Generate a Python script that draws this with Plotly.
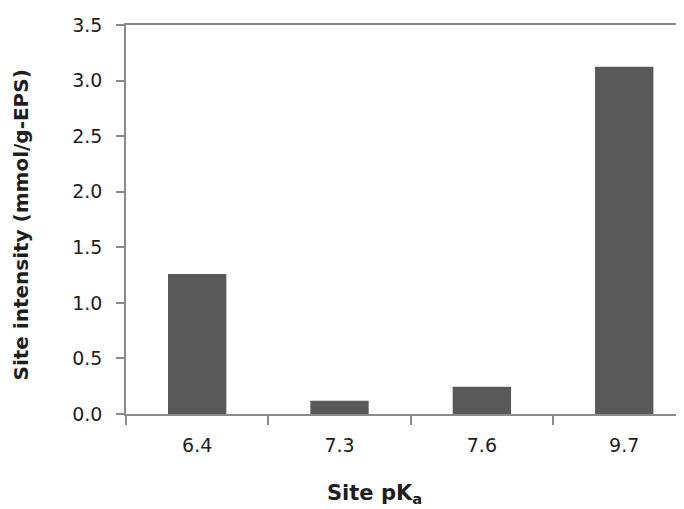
import plotly.graph_objects as go

categories = ["6.4", "7.3", "7.6", "9.7"]
values = [1.26, 0.12, 0.245, 3.125]
y_ticks = [0.0, 0.5, 1.0, 1.5, 2.0, 2.5, 3.0, 3.5]
y_tick_labels = ["0.0", "0.5", "1.0", "1.5", "2.0", "2.5", "3.0", "3.5"]

fig = go.Figure()
fig.add_trace(go.Bar(
    x=categories, y=values,
    marker=dict(color="#595959", line=dict(width=0)),
    width=0.41,
))

axis_color = "#8a8a8a"
font_fam = "DejaVu Sans, Liberation Sans, Arial, sans-serif"
txt = "#1e1e1e"

# page body has an 8px margin, so the figure is shifted by 8px
fig.update_layout(
    width=676, height=501,
    margin=dict(l=118, r=0, t=17, b=95),
    paper_bgcolor="white", plot_bgcolor="white",
    showlegend=False,
    font=dict(family=font_fam, size=19, color=txt),
    xaxis=dict(
        type="category",
        range=[-0.5, 3.42],
        showline=True, linecolor=axis_color, linewidth=1.5, mirror=True,
        ticks="outside", tickson="boundaries", ticklen=9, tickcolor=axis_color, tickwidth=1.5,
        showgrid=False, zeroline=False,
        tickfont=dict(size=19, color=txt),
        ticklabelstandoff=13,
    ),
    yaxis=dict(
        range=[0, 3.5],
        tickvals=y_ticks, ticktext=y_tick_labels,
        showline=True, linecolor=axis_color, linewidth=1.5,
        ticks="outside", ticklen=8, tickcolor=axis_color, tickwidth=1.5,
        showgrid=False, zeroline=False,
        tickfont=dict(size=19, color=txt),
        ticklabelstandoff=10,
    ),
)

fig.add_annotation(
    text="<b>Site intensity (mmol/g-EPS)</b>",
    xref="paper", yref="paper",
    x=(21 - 126) / 558, y=(414 - 225.5) / 389,
    xanchor="center", yanchor="middle", textangle=-90,
    showarrow=False,
    font=dict(size=20, color=txt, family=font_fam),
)

fig.add_annotation(
    text="<b>Site pK<sub>a</sub></b>",
    xref="paper", yref="paper",
    x=(374 - 126) / 558, y=(414 - 494) / 389,
    xanchor="center", yanchor="middle",
    showarrow=False,
    font=dict(size=21, color=txt, family=font_fam),
)

fig.write_html("out.html")
